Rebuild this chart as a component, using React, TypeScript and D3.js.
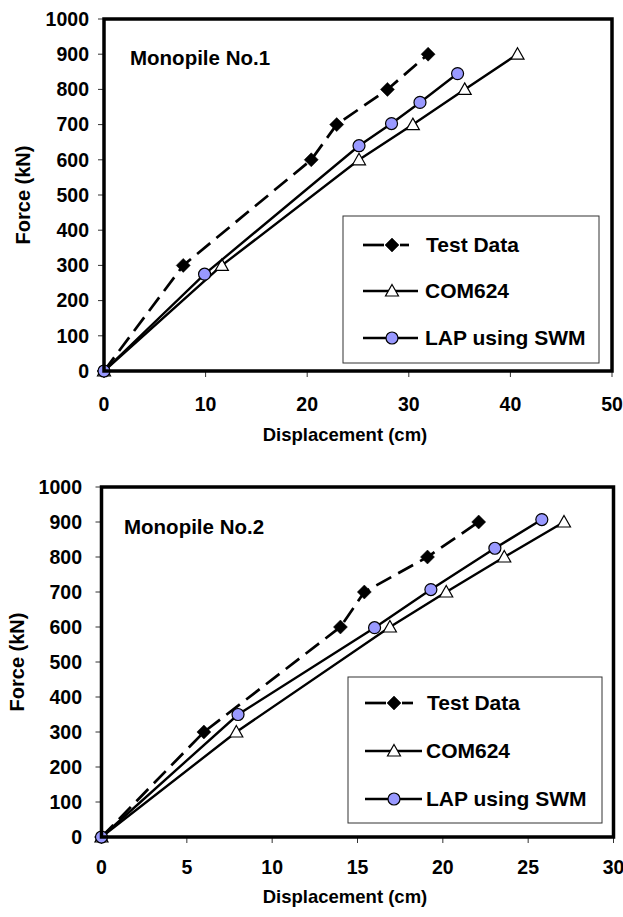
import { useEffect, useRef } from "react";
import * as d3 from "d3";

type Pt = [number, number];

const FORCE_TICKS = [0, 100, 200, 300, 400, 500, 600, 700, 800, 900, 1000];
const DISP_TICKS_1 = [0, 10, 20, 30, 40, 50];
const DISP_TICKS_2 = [0, 5, 10, 15, 20, 25, 30];

const SERIES_NAMES = ["Test Data", "COM624", "LAP using SWM"];

// Monopile No.1 (displacement cm, force kN)
const PILE1_TEST: Pt[] = [[0, 0], [7.8, 300], [20.4, 600], [22.9, 700], [27.9, 800], [31.9, 900]];
const PILE1_COM: Pt[] = [[0, 0], [11.6, 300], [25.1, 600], [30.4, 700], [35.5, 800], [40.7, 900]];
const PILE1_LAP: Pt[] = [[0, 0], [9.9, 275], [25.1, 640], [28.3, 703], [31.1, 763], [34.8, 845]];

// Monopile No.2
const PILE2_TEST: Pt[] = [[0, 0], [6, 300], [14, 600], [15.4, 700], [19.1, 800], [22.1, 900]];
const PILE2_COM: Pt[] = [[0, 0], [7.9, 300], [16.9, 600], [20.2, 700], [23.6, 800], [27.1, 900]];
const PILE2_LAP: Pt[] = [[0, 0], [8, 350], [16, 598], [19.3, 707], [23.05, 825], [25.8, 907]];

const FONT = "'Liberation Sans', Arial, Helvetica, sans-serif";
const LAP_FILL = "#9999ff";

interface PanelCfg {
  title: string;
  left: number; right: number; top: number; bottom: number;
  xMax: number;
  xTicks: number[];
  series: Pt[][];
  legend: { x0: number; x1: number; y0: number; y1: number; rows: number[]; lineX0: number; lineX1: number; textX: number };
  titlePos: [number, number];
  yLabelX: number;
  yTickRight: number;
  xLabelDy: number;
  xTitleDy: number;
}

const PANELS: PanelCfg[] = [
  {
    title: "Monopile No.1",
    left: 104, right: 612, top: 19, bottom: 371,
    xMax: 50, xTicks: DISP_TICKS_1,
    series: [PILE1_TEST, PILE1_COM, PILE1_LAP],
    legend: { x0: 343, x1: 599, y0: 216, y1: 363, rows: [245, 291, 338], lineX0: 363, lineX1: 418, textX: 425 },
    titlePos: [130, 65],
    yLabelX: 30,
    yTickRight: 89,
    xLabelDy: 33,
    xTitleDy: 64
  },
  {
    title: "Monopile No.2",
    left: 101.5, right: 613.5, top: 487, bottom: 837,
    xMax: 30, xTicks: DISP_TICKS_2,
    series: [PILE2_TEST, PILE2_COM, PILE2_LAP],
    legend: { x0: 348, x1: 602, y0: 677, y1: 823, rows: [703, 751, 799], lineX0: 365, lineX1: 422, textX: 426 },
    titlePos: [124, 534],
    yLabelX: 24,
    yTickRight: 82,
    xLabelDy: 30,
    xTitleDy: 60
  }
];

function drawMarker(g: d3.Selection<SVGGElement, unknown, null, undefined>, kind: number, x: number, y: number) {
  if (kind === 0) {
    g.append("path")
      .attr("d", `M${x},${y - 7} L${x + 7},${y} L${x},${y + 7} L${x - 7},${y} Z`)
      .attr("fill", "#000").attr("stroke", "#000").attr("stroke-width", 0.5);
  } else if (kind === 1) {
    g.append("path")
      .attr("d", `M${x},${y - 6.5} L${x + 6.5},${y + 5} L${x - 6.5},${y + 5} Z`)
      .attr("fill", "#fff").attr("stroke", "#000").attr("stroke-width", 1.2);
  } else {
    g.append("circle")
      .attr("cx", x).attr("cy", y).attr("r", 6)
      .attr("fill", LAP_FILL).attr("stroke", "#000").attr("stroke-width", 1.2);
  }
}

function Panel({ cfg }: { cfg: PanelCfg }) {
  const ref = useRef<SVGGElement>(null);

  useEffect(() => {
    const el = ref.current;
    if (!el) return;
    const g = d3.select(el);
    g.selectAll("*").remove();

    const x = d3.scaleLinear().domain([0, cfg.xMax]).range([cfg.left, cfg.right]);
    const y = d3.scaleLinear().domain([0, 1000]).range([cfg.bottom, cfg.top]);

    // ticks
    for (const t of FORCE_TICKS) {
      g.append("line")
        .attr("x1", cfg.left - 6).attr("x2", cfg.left).attr("y1", y(t)).attr("y2", y(t))
        .attr("stroke", "#333").attr("stroke-width", 1);
      g.append("text")
        .attr("x", cfg.yTickRight).attr("y", y(t)).attr("dy", "0.35em")
        .attr("text-anchor", "end").attr("font-size", 19.5).attr("font-weight", "bold")
        .text(t);
    }
    for (const t of cfg.xTicks) {
      g.append("line")
        .attr("x1", x(t)).attr("x2", x(t)).attr("y1", cfg.bottom).attr("y2", cfg.bottom + 6)
        .attr("stroke", "#333").attr("stroke-width", 1);
      g.append("text")
        .attr("x", x(t)).attr("y", cfg.bottom + cfg.xLabelDy).attr("dy", "0.35em")
        .attr("text-anchor", "middle").attr("font-size", 19.5).attr("font-weight", "bold")
        .text(t);
    }

    // axis titles
    g.append("text")
      .attr("x", 345).attr("y", cfg.bottom + cfg.xTitleDy).attr("dy", "0.35em")
      .attr("text-anchor", "middle").attr("font-size", 18.5).attr("font-weight", "bold")
      .text("Displacement (cm)");
    g.append("text")
      .attr("transform", `translate(${cfg.yLabelX},${(cfg.top + cfg.bottom) / 2}) rotate(-90)`)
      .attr("text-anchor", "middle").attr("font-size", 20).attr("font-weight", "bold")
      .text("Force (kN)");

    g.append("text")
      .attr("x", cfg.titlePos[0]).attr("y", cfg.titlePos[1])
      .attr("font-size", 20.5).attr("font-weight", "bold")
      .text(cfg.title);

    // series
    const line = d3.line<Pt>().x((d) => x(d[0])).y((d) => y(d[1]));
    cfg.series.forEach((data, i) => {
      g.append("path")
        .attr("d", line(data))
        .attr("fill", "none")
        .attr("stroke", "#000")
        .attr("stroke-width", i === 0 ? 2.7 : 2.4)
        .attr("stroke-dasharray", i === 0 ? "17 8" : null);
      for (const d of data) drawMarker(g, i, x(d[0]), y(d[1]));
    });

    // legend
    const L = cfg.legend;
    g.append("rect")
      .attr("x", L.x0).attr("y", L.y0).attr("width", L.x1 - L.x0).attr("height", L.y1 - L.y0)
      .attr("fill", "#fff").attr("stroke", "#333").attr("stroke-width", 1);
    const mid = L.lineX0 + 29;
    SERIES_NAMES.forEach((name, i) => {
      const ry = L.rows[i];
      if (i === 0) {
        g.append("line").attr("x1", L.lineX0).attr("x2", mid - 8).attr("y1", ry).attr("y2", ry)
          .attr("stroke", "#000").attr("stroke-width", 2.7);
        g.append("line").attr("x1", mid + 8).attr("x2", L.lineX1 - 9).attr("y1", ry).attr("y2", ry)
          .attr("stroke", "#000").attr("stroke-width", 2.7);
      } else {
        g.append("line").attr("x1", L.lineX0).attr("x2", L.lineX1).attr("y1", ry).attr("y2", ry)
          .attr("stroke", "#000").attr("stroke-width", 2.4);
      }
      drawMarker(g, i, mid, ry);
      g.append("text")
        .attr("x", L.textX + (i === 0 ? 1 : 0)).attr("y", ry).attr("dy", "0.35em")
        .attr("font-size", 21).attr("font-weight", "bold")
        .text(name);
    });

    // plot frame
    g.append("rect")
      .attr("x", cfg.left).attr("y", cfg.top)
      .attr("width", cfg.right - cfg.left).attr("height", cfg.bottom - cfg.top)
      .attr("fill", "none").attr("stroke", "#000").attr("stroke-width", 3.5);
  }, [cfg]);

  return <g ref={ref} />;
}

export default function App() {
  useEffect(() => { document.body.style.margin = "0"; }, []);
  return (
    <svg width={623} height={917} style={{ display: "block", background: "#fff", fontFamily: FONT }}>
      {PANELS.map((p) => <Panel key={p.title} cfg={p} />)}
    </svg>
  );
}
